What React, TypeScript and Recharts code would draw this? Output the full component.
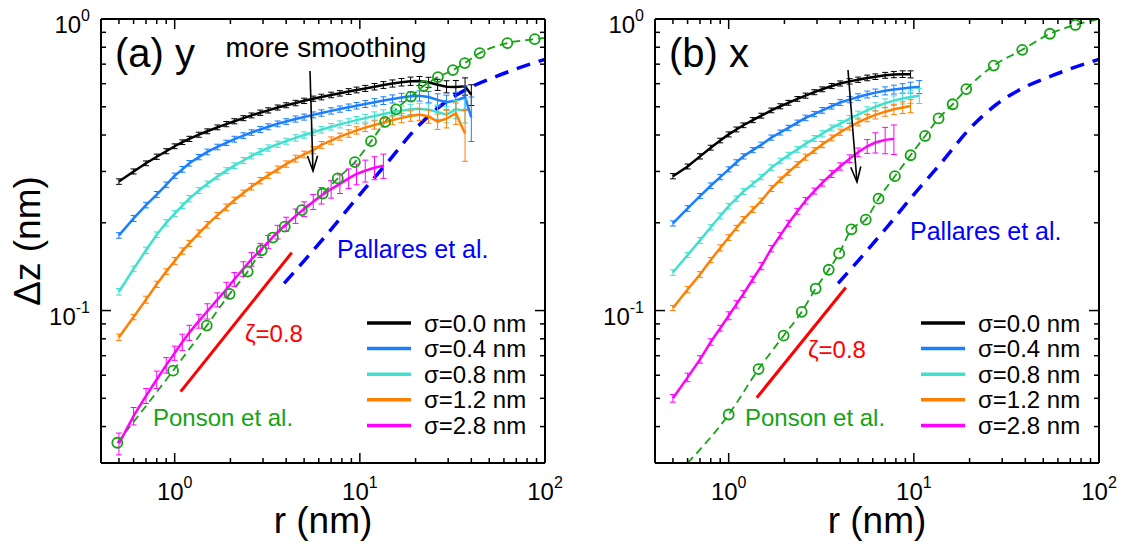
import React from 'react';
import { ComposedChart, Line, XAxis, YAxis, ErrorBar } from 'recharts';

const FONT = '"Liberation Sans", Arial, Helvetica, sans-serif';

// r (nm) of the smoothed-surface curves, shared by both panels
const rGrid = [0.5, 0.6, 0.7, 0.8, 0.9, 1.0, 1.1, 1.2, 1.35, 1.5, 1.7, 1.9, 2.1, 2.35, 2.6, 2.9, 3.2, 3.6, 4.0, 4.5,
  5.0, 5.6, 6.2, 7.0, 7.8, 8.7, 9.6, 10.7, 12, 13.4, 15, 16.8, 18.8, 21, 23.5, 26.3, 29.4, 33, 37, 40];

const sigmaLabels = ['σ=0.0 nm', 'σ=0.4 nm', 'σ=0.8 nm', 'σ=1.2 nm', 'σ=2.8 nm'];
const sigmaColors = ['#000000', '#1a7fff', '#40e0d0', '#ff7f00', '#ff00ff'];

// (a) y direction
const a00 = [0.277, 0.300, 0.320, 0.337, 0.352, 0.366, 0.378, 0.388, 0.401, 0.412, 0.425, 0.436, 0.446, 0.457, 0.467,
  0.477, 0.486, 0.497, 0.506, 0.515, 0.524, 0.533, 0.540, 0.549, 0.556, 0.564, 0.571, 0.578, 0.586, 0.594, 0.601,
  0.607, 0.612, 0.613, 0.607, 0.595, 0.586, 0.585, 0.588, 0.550];
const a04 = [0.181, 0.207, 0.230, 0.250, 0.270, 0.290, 0.305, 0.320, 0.336, 0.350, 0.364, 0.376, 0.387, 0.398, 0.408,
  0.418, 0.427, 0.437, 0.445, 0.454, 0.461, 0.469, 0.476, 0.484, 0.491, 0.498, 0.504, 0.511, 0.518, 0.525, 0.532,
  0.538, 0.543, 0.545, 0.540, 0.528, 0.518, 0.525, 0.540, 0.460];
const a08 = [0.116, 0.139, 0.161, 0.182, 0.200, 0.215, 0.229, 0.242, 0.258, 0.272, 0.288, 0.302, 0.314, 0.327, 0.339,
  0.351, 0.361, 0.372, 0.381, 0.391, 0.400, 0.409, 0.417, 0.427, 0.435, 0.443, 0.450, 0.457, 0.465, 0.472, 0.479,
  0.485, 0.490, 0.492, 0.488, 0.480, 0.470, 0.490, 0.485];
const a12 = [0.081, 0.095, 0.109, 0.123, 0.136, 0.148, 0.160, 0.170, 0.184, 0.197, 0.212, 0.226, 0.239, 0.253, 0.266,
  0.279, 0.291, 0.305, 0.318, 0.332, 0.343, 0.355, 0.370, 0.383, 0.395, 0.405, 0.415, 0.424, 0.433, 0.441, 0.450,
  0.458, 0.465, 0.470, 0.463, 0.445, 0.455, 0.475, 0.405];
const a28 = [0.035, 0.0435, 0.051, 0.058, 0.065, 0.0715, 0.078, 0.084, 0.092, 0.0995, 0.109, 0.118, 0.128, 0.139, 0.150,
  0.161, 0.172, 0.186, 0.198, 0.211, 0.223, 0.236, 0.248, 0.261, 0.272, 0.284, 0.294, 0.302, 0.309, 0.314];

const errA00 = [0.006, 0.006, 0.006, 0.007, 0.007, 0.007, 0.007, 0.008, 0.008, 0.008, 0.008, 0.009, 0.009, 0.009, 0.009,
  0.01, 0.01, 0.01, 0.01, 0.011, 0.011, 0.011, 0.012, 0.012, 0.012, 0.013, 0.013, 0.014, 0.015, 0.016, 0.017, 0.018,
  0.02, 0.022, 0.024, 0.026, 0.028, 0.03, 0.04, 0.045];
const errA04 = [0.004, 0.005, 0.005, 0.006, 0.006, 0.006, 0.007, 0.007, 0.007, 0.008, 0.008, 0.008, 0.009, 0.009, 0.009,
  0.01, 0.01, 0.01, 0.01, 0.011, 0.011, 0.011, 0.012, 0.012, 0.012, 0.013, 0.013, 0.014, 0.015, 0.016, 0.017, 0.018,
  0.02, 0.022, 0.024, 0.026, 0.03, 0.035, 0.05, 0.08];
const errA08 = [0.003, 0.003, 0.004, 0.004, 0.005, 0.005, 0.005, 0.006, 0.006, 0.006, 0.007, 0.007, 0.007, 0.008, 0.008,
  0.008, 0.009, 0.009, 0.009, 0.01, 0.01, 0.01, 0.011, 0.011, 0.012, 0.012, 0.013, 0.014, 0.015, 0.016, 0.017, 0.018,
  0.02, 0.022, 0.024, 0.027, 0.03, 0.035, 0.045];
const errA12 = [0.002, 0.002, 0.003, 0.003, 0.003, 0.004, 0.004, 0.004, 0.005, 0.005, 0.005, 0.006, 0.006, 0.006, 0.007,
  0.007, 0.007, 0.008, 0.008, 0.009, 0.009, 0.01, 0.01, 0.011, 0.011, 0.012, 0.012, 0.013, 0.014, 0.015, 0.016, 0.017,
  0.019, 0.021, 0.024, 0.027, 0.032, 0.04, 0.08];
const errA28 = [0.003, 0.003, 0.003, 0.004, 0.004, 0.004, 0.005, 0.005, 0.005, 0.006, 0.006, 0.007, 0.007, 0.008, 0.008,
  0.009, 0.009, 0.01, 0.011, 0.012, 0.013, 0.014, 0.016, 0.018, 0.02, 0.022, 0.024, 0.026, 0.028, 0.03];

// (b) x direction
const b00 = [0.289, 0.312, 0.338, 0.362, 0.383, 0.402, 0.418, 0.432, 0.450, 0.466, 0.486, 0.502, 0.516, 0.532, 0.546,
  0.561, 0.574, 0.589, 0.601, 0.611, 0.619, 0.628, 0.634, 0.641, 0.645, 0.647, 0.646];
const b04 = [0.199, 0.224, 0.247, 0.268, 0.287, 0.305, 0.322, 0.338, 0.355, 0.370, 0.392, 0.408, 0.423, 0.441, 0.458,
  0.472, 0.486, 0.502, 0.517, 0.529, 0.540, 0.551, 0.559, 0.567, 0.573, 0.578, 0.582, 0.585];
const b08 = [0.135, 0.155, 0.174, 0.193, 0.211, 0.228, 0.242, 0.256, 0.272, 0.287, 0.309, 0.326, 0.341, 0.357, 0.373,
  0.389, 0.404, 0.423, 0.438, 0.455, 0.470, 0.486, 0.500, 0.514, 0.525, 0.534, 0.540, 0.545];
const b12 = [0.102, 0.118, 0.133, 0.149, 0.164, 0.178, 0.192, 0.205, 0.222, 0.238, 0.262, 0.281, 0.298, 0.317, 0.336,
  0.354, 0.371, 0.391, 0.409, 0.427, 0.442, 0.457, 0.469, 0.481, 0.490, 0.497, 0.503];
const b28 = [0.050, 0.059, 0.068, 0.078, 0.087, 0.096, 0.105, 0.114, 0.128, 0.142, 0.163, 0.181, 0.199, 0.219, 0.238,
  0.257, 0.274, 0.294, 0.312, 0.332, 0.349, 0.366, 0.377, 0.385, 0.388];

const errB00 = [0.006, 0.006, 0.007, 0.007, 0.007, 0.008, 0.008, 0.008, 0.009, 0.009, 0.009, 0.01, 0.01, 0.01, 0.011,
  0.011, 0.011, 0.012, 0.012, 0.013, 0.013, 0.014, 0.014, 0.015, 0.016, 0.017, 0.018];
const errB04 = [0.004, 0.005, 0.005, 0.006, 0.006, 0.006, 0.007, 0.007, 0.007, 0.008, 0.008, 0.008, 0.009, 0.009, 0.01,
  0.01, 0.011, 0.011, 0.012, 0.013, 0.014, 0.015, 0.016, 0.018, 0.02, 0.022, 0.025, 0.03];
const errB08 = [0.003, 0.003, 0.004, 0.004, 0.005, 0.005, 0.005, 0.006, 0.006, 0.006, 0.007, 0.007, 0.008, 0.008, 0.009,
  0.009, 0.01, 0.01, 0.011, 0.012, 0.013, 0.014, 0.016, 0.018, 0.02, 0.023, 0.027, 0.032];
const errB12 = [0.002, 0.003, 0.003, 0.003, 0.004, 0.004, 0.004, 0.005, 0.005, 0.005, 0.006, 0.006, 0.007, 0.007, 0.008,
  0.008, 0.009, 0.009, 0.01, 0.011, 0.012, 0.013, 0.015, 0.017, 0.02, 0.023, 0.026];
const errB28 = [0.0015, 0.002, 0.002, 0.002, 0.002, 0.003, 0.003, 0.003, 0.003, 0.004, 0.004, 0.004, 0.005, 0.005, 0.006,
  0.006, 0.007, 0.008, 0.009, 0.01, 0.012, 0.02, 0.03, 0.04, 0.045];

// Pallares et al. (same curve in both panels)
const pallaresR = [3.9, 5, 7, 10, 14, 20, 28, 40, 55, 75, 100];
const pallaresV = [0.124, 0.148, 0.19, 0.25, 0.32, 0.42, 0.51, 0.585, 0.637, 0.685, 0.727];

// Ponson et al. symbols and the ends of its dashed line
const ponsonAR = [0.49, 0.98, 1.49, 1.98, 2.48, 2.95, 3.39, 3.93, 4.86, 6.3, 7.6, 9.4, 11.5, 13.7, 15.7, 18.9, 22.1,
  26.4, 31.8, 36.9, 44.4, 62.6, 88];
const ponsonAV = [0.0352, 0.0622, 0.0888, 0.114, 0.136, 0.161, 0.178, 0.194, 0.221, 0.252, 0.284, 0.323, 0.381, 0.444,
  0.49, 0.542, 0.589, 0.632, 0.668, 0.706, 0.764, 0.827, 0.853];
const ponsonATail = { r: [100], v: [0.862] };
const ponsonBR = [1.0, 1.45, 1.98, 2.48, 2.95, 3.47, 3.95, 4.6, 5.5, 6.45, 7.9, 9.6, 11.5, 13.6, 16.2, 19.2, 27.0, 38.5,
  54.3, 74.5];
const ponsonBV = [0.044, 0.063, 0.082, 0.099, 0.119, 0.138, 0.157, 0.19, 0.205, 0.242, 0.289, 0.341, 0.397, 0.456, 0.51,
  0.575, 0.692, 0.784, 0.89, 0.954];
const ponsonBHead = { r: [0.6], v: [0.03] };
const ponsonBTail = { r: [100], v: [1.0] };

// zeta = 0.8 guide lines
const zetaAR = [1.077, 4.29];
const zetaAV = [0.0527, 0.158];
const zetaBR = [1.417, 4.29];
const zetaBV = [0.0502, 0.12];

const xTicks = [0.5, 0.6, 0.7, 0.8, 0.9, 1, 2, 3, 4, 5, 6, 7, 8, 9, 10, 20, 30, 40, 50, 60, 70, 80, 90, 100];
const yTicks = [0.04, 0.05, 0.06, 0.07, 0.08, 0.09, 0.1, 0.2, 0.3, 0.4, 0.5, 0.6, 0.7, 0.8, 0.9, 1];

const GREEN = '#13a313';
const PBLUE = '#0000ff';
const RED = '#ff0000';

const pts = (r: number[], v: number[], e?: number[]) => v.map((y, i) => ({ r: r[i], v: y, e: e ? e[i] : 0 }));

const isMajor = (v: number) => Math.abs(Math.log10(v) - Math.round(Math.log10(v))) < 1e-6;
const expOf = (v: number) => String(Math.round(Math.log10(v)));

const BottomTick = ({ x, y, payload }: any) => {
  const major = isMajor(payload.value);
  return (
    <g>
      <line x1={x} x2={x} y1={y} y2={y - (major ? 10 : 5)} stroke="#000" strokeWidth={1.5} />
      {major && (
        <text x={x} y={y + 37} textAnchor="middle" fontFamily={FONT} fontSize={24} fill="#000">
          10<tspan dy={-12} fontSize={16}>{expOf(payload.value)}</tspan>
        </text>
      )}
    </g>
  );
};

const TopTick = ({ x, y, payload }: any) => (
  <line x1={x} x2={x} y1={y} y2={y + (isMajor(payload.value) ? 10 : 5)} stroke="#000" strokeWidth={1.5} />
);

const LeftTick = ({ x, y, payload }: any) => {
  const major = isMajor(payload.value);
  return (
    <g>
      <line x1={x} x2={x + (major ? 10 : 5)} y1={y} y2={y} stroke="#000" strokeWidth={1.5} />
      {major && (
        <text x={x - 11} y={y + 14} textAnchor="end" fontFamily={FONT} fontSize={24} fill="#000">
          10<tspan dy={-12} fontSize={16}>{expOf(payload.value)}</tspan>
        </text>
      )}
    </g>
  );
};

const RightTick = ({ x, y, payload }: any) => (
  <line x1={x} x2={x - (isMajor(payload.value) ? 10 : 5)} y1={y} y2={y} stroke="#000" strokeWidth={1.5} />
);

const Arrow = ({ x1, y1, x2, y2 }: any) => {
  const a = Math.atan2(y2 - y1, x2 - x1);
  const L = 16;
  const w = 0.32;
  const p1 = `${x2 - L * Math.cos(a - w)},${y2 - L * Math.sin(a - w)}`;
  const p2 = `${x2 - L * Math.cos(a + w)},${y2 - L * Math.sin(a + w)}`;
  return (
    <g stroke="#000" strokeWidth={1.6} fill="none">
      <line x1={x1} y1={y1} x2={x2} y2={y2} />
      <polyline points={`${p1} ${x2},${y2} ${p2}`} />
    </g>
  );
};

interface PanelProps {
  left: number;
  tag: string;
  curves: number[][];
  errs: number[][];
  ponsonLine: { r: number; v: number; e: number }[];
  ponsonDots: { r: number; v: number; e: number }[];
  zeta: { r: number; v: number; e: number }[];
  arrow: number[];
  pallaresPos: number[];
  zetaPos: number[];
  ponsonPos: number[];
  smoothing?: boolean;
  yLabel?: boolean;
}

const W = 580;
const H = 548;

const Panel = (p: PanelProps) => {
  const axisLine = { stroke: '#000', strokeWidth: 2 };
  const pallares = pts(pallaresR, pallaresV);
  return (
    <div style={{ position: 'absolute', left: p.left, top: 0, width: W, height: H }}>
      <ComposedChart width={W} height={H} margin={{ top: 18, right: 34, bottom: 25, left: 41 }}>
        <XAxis xAxisId="b" orientation="bottom" dataKey="r" type="number" scale="log" domain={[0.4, 100]}
          allowDataOverflow ticks={xTicks} interval={0} tickSize={0} tickMargin={0} tickLine={false}
          axisLine={axisLine} tick={<BottomTick />} height={60} />
        <XAxis xAxisId="t" orientation="top" dataKey="r" type="number" scale="log" domain={[0.4, 100]}
          allowDataOverflow ticks={xTicks} interval={0} tickSize={0} tickMargin={0} tickLine={false}
          axisLine={axisLine} tick={<TopTick />} height={1} />
        <YAxis yAxisId="l" orientation="left" type="number" scale="log" domain={[0.03, 1]}
          allowDataOverflow ticks={yTicks} interval={0} tickSize={0} tickMargin={0} tickLine={false}
          axisLine={axisLine} tick={<LeftTick />} width={60} />
        <YAxis yAxisId="r" orientation="right" type="number" scale="log" domain={[0.03, 1]}
          allowDataOverflow ticks={yTicks} interval={0} tickSize={0} tickMargin={0} tickLine={false}
          axisLine={axisLine} tick={<RightTick />} width={1} />

        {/* keeps the mirrored frame axes bound to data */}
        <Line xAxisId="t" yAxisId="r" data={pallares} dataKey="v" stroke="none" dot={false}
          isAnimationActive={false} />

        <Line xAxisId="b" yAxisId="l" data={pallares} dataKey="v" type="monotone" stroke={PBLUE}
          strokeWidth={3.5} strokeDasharray="14 9" dot={false} isAnimationActive={false} />
        <Line xAxisId="b" yAxisId="l" data={p.ponsonLine} dataKey="v" type="monotone" stroke={GREEN}
          strokeWidth={1.8} strokeDasharray="8 5" dot={false} isAnimationActive={false} />
        <Line xAxisId="b" yAxisId="l" data={p.ponsonDots} dataKey="v" stroke="none"
          dot={{ r: 5, stroke: GREEN, strokeWidth: 1.8, fill: 'none' }} isAnimationActive={false} />

        {p.curves.map((c, i) => (
          <Line key={i} xAxisId="b" yAxisId="l" data={pts(rGrid, c, p.errs[i])} dataKey="v"
            stroke={sigmaColors[i]} strokeWidth={2.5} dot={false} isAnimationActive={false}>
            <ErrorBar dataKey="e" direction="y" width={3} strokeWidth={1} stroke={sigmaColors[i]} />
          </Line>
        ))}

        <Line xAxisId="b" yAxisId="l" data={p.zeta} dataKey="v" stroke={RED} strokeWidth={3}
          dot={false} isAnimationActive={false} />
      </ComposedChart>

      <svg width={W} height={H} style={{ position: 'absolute', left: 0, top: 0, pointerEvents: 'none' }}
        fontFamily={FONT}>
        <text x={115} y={67} fontSize={40} fill="#000">{p.tag}</text>
        {p.smoothing && (
          <text x={326} y={57} fontSize={28} textAnchor="middle" fill="#000">more smoothing</text>
        )}
        <Arrow x1={p.arrow[0]} y1={p.arrow[1]} x2={p.arrow[2]} y2={p.arrow[3]} />
        <text x={p.pallaresPos[0]} y={p.pallaresPos[1]} fontSize={25} fill={PBLUE}>Pallares et al.</text>
        <text x={p.zetaPos[0]} y={p.zetaPos[1]} fontSize={24} fill={RED}>ζ=0.8</text>
        <text x={p.ponsonPos[0]} y={p.ponsonPos[1]} fontSize={24} fill={GREEN}>Ponson et al.</text>

        {sigmaLabels.map((s, i) => {
          const y = 323 + i * 25.6;
          return (
            <g key={s}>
              <line x1={367} x2={411} y1={y} y2={y} stroke={sigmaColors[i]} strokeWidth={3.5} />
              <text x={424} y={y + 8.5} fontSize={24} fill="#000">{s}</text>
            </g>
          );
        })}

        {p.yLabel && (
          <text transform="translate(40,241) rotate(-90)" textAnchor="middle" fontSize={37} fill="#000">Δz (nm)</text>
        )}
        <text x={323} y={533} textAnchor="middle" fontSize={37} fill="#000">r (nm)</text>
      </svg>
    </div>
  );
};

export default function App() {
  return (
    <div style={{ position: 'absolute', left: 0, top: 0, width: 1133, height: 548, background: '#fff', overflow: 'hidden' }}>
      <Panel
        left={0}
        tag="(a) y"
        curves={[a00, a04, a08, a12, a28]}
        errs={[errA00, errA04, errA08, errA12, errA28]}
        ponsonLine={pts([...ponsonAR, ...ponsonATail.r], [...ponsonAV, ...ponsonATail.v])}
        ponsonDots={pts(ponsonAR, ponsonAV)}
        zeta={pts(zetaAR, zetaAV)}
        arrow={[310, 71, 313, 171]}
        pallaresPos={[337, 258]}
        zetaPos={[245, 342]}
        ponsonPos={[153, 426]}
        smoothing
        yLabel
      />
      <Panel
        left={554}
        tag="(b) x"
        curves={[b00, b04, b08, b12, b28]}
        errs={[errB00, errB04, errB08, errB12, errB28]}
        ponsonLine={pts([...ponsonBHead.r, ...ponsonBR, ...ponsonBTail.r], [...ponsonBHead.v, ...ponsonBV, ...ponsonBTail.v])}
        ponsonDots={pts(ponsonBR, ponsonBV)}
        zeta={pts(zetaBR, zetaBV)}
        arrow={[294, 70, 303, 182]}
        pallaresPos={[356, 240]}
        zetaPos={[254, 358]}
        ponsonPos={[191, 426]}
      />
    </div>
  );
}
